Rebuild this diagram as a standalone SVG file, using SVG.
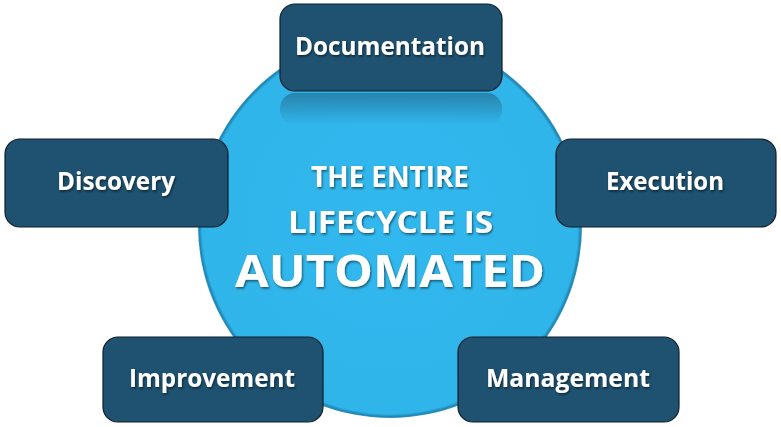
<svg xmlns="http://www.w3.org/2000/svg" width="781" height="427" viewBox="0 0 781 427">
  <defs>
    <radialGradient id="circFill" cx="0.5" cy="0.5" r="0.5">
      <stop offset="0" stop-color="#31b8ee"/>
      <stop offset="0.978" stop-color="#30b5ea"/>
      <stop offset="0.993" stop-color="#1d86b4"/>
      <stop offset="1" stop-color="#3a95bd"/>
    </radialGradient>
    <linearGradient id="reflGrad" x1="0" y1="0" x2="0" y2="1">
      <stop offset="0" stop-color="#1e5270" stop-opacity="0.5"/>
      <stop offset="1" stop-color="#1e5270" stop-opacity="0"/>
    </linearGradient>
    <filter id="txtShadow" x="-10%" y="-30%" width="120%" height="160%">
      <feDropShadow dx="1" dy="1.5" stdDeviation="1" flood-color="#000" flood-opacity="0.55"/>
    </filter>
  </defs>
  <style>
    .box { fill: #1e5270; stroke: #0e1e2a; stroke-width: 1.2; }
    .lbl { font-family: "Open Sans", "Noto Sans", "Liberation Sans", sans-serif; font-weight: bold; fill: #ffffff; text-anchor: middle; filter: url(#txtShadow); }
    .node { font-size: 25px; }
    .ctr { font-family: "Open Sans", "Noto Sans", "Liberation Sans", sans-serif; font-weight: bold; fill: #ffffff; text-anchor: middle; filter: url(#txtShadow); }
  </style>
  <rect width="781" height="427" fill="#ffffff"/>

  <g id="center">
    <circle cx="390" cy="226" r="192" fill="url(#circFill)"/>
    <text class="ctr" x="390" y="187" font-size="28" textLength="158" lengthAdjust="spacingAndGlyphs">THE ENTIRE</text>
    <text class="ctr" x="390.5" y="233" font-size="30" textLength="205" lengthAdjust="spacingAndGlyphs">LIFECYCLE IS</text>
    <text class="ctr" x="390" y="287" font-size="45" textLength="310" lengthAdjust="spacingAndGlyphs">AUTOMATED</text>
  </g>

  <g id="connectors"></g>

  <g id="documentation">
    <rect x="280" y="93" width="222" height="32" rx="15" fill="url(#reflGrad)"/>
    <rect class="box" x="280" y="4" width="222" height="87" rx="15"/>
    <text class="lbl node" x="390" y="55" textLength="190" lengthAdjust="spacingAndGlyphs">Documentation</text>
  </g>

  <g id="discovery">
    <rect class="box" x="5" y="139" width="223" height="88" rx="15"/>
    <text class="lbl node" x="116" y="190" textLength="118" lengthAdjust="spacingAndGlyphs">Discovery</text>
  </g>

  <g id="execution">
    <rect class="box" x="556" y="139" width="220" height="88" rx="15"/>
    <text class="lbl node" x="665" y="190" textLength="118" lengthAdjust="spacingAndGlyphs">Execution</text>
  </g>

  <g id="improvement">
    <rect class="box" x="103" y="337" width="220" height="85" rx="15"/>
    <text class="lbl node" x="212" y="387" textLength="166" lengthAdjust="spacingAndGlyphs">Improvement</text>
  </g>

  <g id="management">
    <rect class="box" x="458" y="337" width="221" height="85" rx="15"/>
    <text class="lbl node" x="568" y="387" textLength="164" lengthAdjust="spacingAndGlyphs">Management</text>
  </g>
</svg>
